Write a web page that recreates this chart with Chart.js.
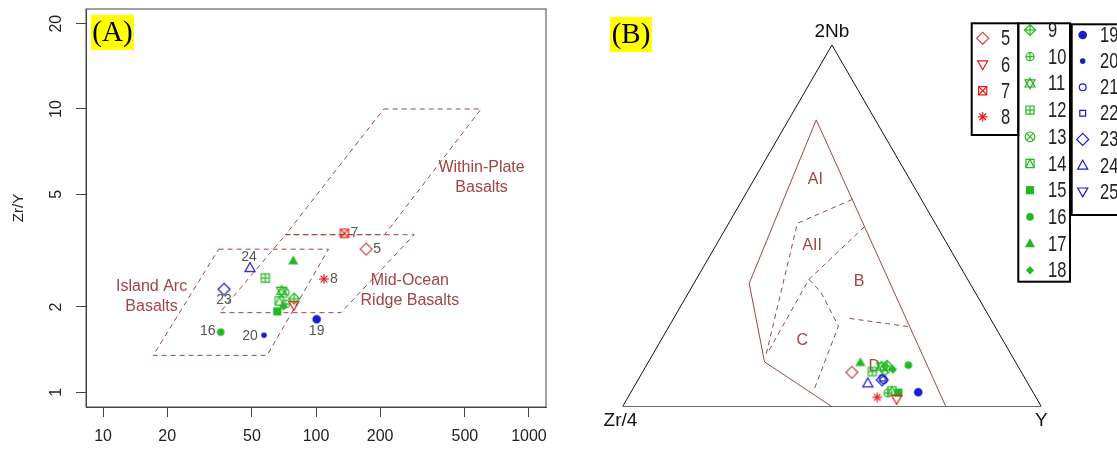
<!DOCTYPE html>
<html>
<head>
<meta charset="utf-8">
<script src="https://cdn.jsdelivr.net/npm/chart.js@4.4.1/dist/chart.umd.min.js"></script>
<style>
    html, body { margin: 0; padding: 0; background: #fff; }
    #wrap { position: relative; width: 1117px; height: 451px; overflow: hidden; }
    canvas { position: absolute; top: 0; }
    #chartA { left: 0; }
    #chartB { left: 560px; }
</style>
</head>
<body>
<div id="wrap">
    <canvas id="chartA" width="560" height="451"></canvas>
    <canvas id="chartB" width="557" height="451"></canvas>
</div>
<script>
// ---- data ----
const samples = ["5","6","7","8","9","10","11","12","13","14","15","16","17","18","19","20","21","22","23","24","25"];

// panel A: Zr (ppm) vs Zr/Y
const zrA  = [172, 78.7, 136, 109, 78.9, 72, 69, 57.8, 71, 67.3, 65.8, 35.7, 78.2, 70.3, 100.7, 57, null, null, 37, 49, null];
const zrYA = [3.2, 2.03, 3.64, 2.51, 2.14, 2.05, 2.28, 2.53, 2.25, 2.10, 1.93, 1.63, 2.91, 2.01, 1.81, 1.59, null, null, 2.31, 2.75, null];

// panel B: ternary 2Nb - Zr/4 - Y (%)
const nb2B = [9.5, 2.1, null, 2.6, 11.3, 3.8, 11.1, 9.7, 10.3, 4.4, 3.9, 11.5, 12.2, 10.3, 4.0, null, 7.4, 7.9, 7.4, 6.5, null];
const zr4B = [40.5, 33.5, null, 37.9, 31.2, 34.7, 32.6, 35.5, 32.2, 33.5, 32.2, 26.0, 37.1, 30.3, 27.4, null, 34.0, 34.0, 34.3, 38.2, null];
const yB   = [50.0, 64.4, null, 59.5, 57.5, 61.5, 56.3, 54.8, 57.5, 62.1, 63.9, 62.5, 50.7, 59.4, 68.6, null, 58.6, 58.1, 58.3, 55.3, null];

// panel A axes and fields
const xTicksA = [10, 20, 50, 100, 200, 500, 1000];
const yTicksA = [1, 2, 5, 10, 20];
const wpbX = [208, 596, 210, 72];      const wpbY = [10, 10, 3.6, 3.6];
const morbX = [72, 289, 131, 35.3];    const morbY = [3.6, 3.6, 1.91, 1.91];
const iabX = [34.9, 114.5, 58.9, 17.2]; const iabY = [3.2, 3.2, 1.35, 1.35];
const regionTextA = ["Within-Plate", "Basalts", "Mid-Ocean", "Ridge Basalts", "Island Arc", "Basalts"];
const regionXA = [599, 599, 276, 276, 16.9, 16.9];
const regionYA = [6.21, 5.28, 2.47, 2.10, 2.37, 2.01];
const labelledA = ["5", "7", "8", "24", "23", "20", "19", "16"];

// panel B fields (2Nb, Zr/4, Y)
const outlineB = [[0, 50, 50], [12.4, 59.9, 27.7], [34.1, 52.7, 13.2], [79.3, 14.1, 6.6], [0, 22.8, 77.2]];
const dashB = [
    [[57.3, 16.5, 26.2], [50.7, 32.9, 16.4], [14.3, 58.6, 27.1]],
    [[49.8, 17.3, 32.9], [35.2, 37.9, 26.9], [15.2, 57.6, 27.2]],
    [[35.2, 37.9, 26.9], [31.8, 36.8, 31.4], [22.3, 37.3, 40.4], [4.6, 52.0, 43.4]],
    [[24.4, 33.6, 42.0], [22.1, 20.4, 57.5]]
];
const fieldNamesB = ["AI", "AII", "B", "C", "D"];
const fieldPosB = [[62.7, 22.6, 14.7], [44.5, 32.5, 23.0], [34.6, 26.2, 39.2], [18.4, 47.9, 33.7], [11.0, 34.4, 54.6]];
const legendGroups = [["5","6","7","8"], ["9","10","11","12","13","14","15","16","17","18"], ["19","20","21","22","23","24","25"]];

// ---- styles ----
const FONT = '"Liberation Sans", Arial, sans-serif';
const FIELD = "#a04444";
const RED = "#e41a1a", GREEN = "#22b822", BLUE = "#1a1ad0";
const symbolOf = {"5":"diamond","6":"triDown","7":"squareX","8":"asterisk","9":"diamondPlus","10":"circlePlus",
    "11":"star","12":"squarePlus","13":"circleX","14":"squareTri","15":"squareFill","16":"circleFill",
    "17":"triFill","18":"diamondFill","19":"circleFill","20":"circleFill","21":"circle","22":"square",
    "23":"diamond","24":"triUp","25":"triDown"};
const sizeOf = {"5":5.2,"16":3.8,"18":3.6,"19":4.3,"20":2.8,"21":3.4,"22":3.4,"23":5.2,"10":4};

function colorOf(s) {
    const n = parseInt(s);
    if (n === 5) return "#c84848";
    if (n <= 8) return RED;
    if (n <= 18) return GREEN;
    return BLUE;
}

function drawSym(g, kind, x, y, r, color) {
    g.save();
    g.strokeStyle = color; g.fillStyle = color; g.lineWidth = 1.2;
    const path = pts => { g.beginPath(); pts.forEach((p, i) => i ? g.lineTo(x + p[0], y + p[1]) : g.moveTo(x + p[0], y + p[1])); g.closePath(); };
    const line = (x1, y1, x2, y2) => { g.beginPath(); g.moveTo(x + x1, y + y1); g.lineTo(x + x2, y + y2); g.stroke(); };
    const circ = rr => { g.beginPath(); g.arc(x, y, rr, 0, 2 * Math.PI); };
    const s = r * 0.85, d = r * 1.15;
    const dia = [[0, -d], [d, 0], [0, d], [-d, 0]];
    const tU = [[0, -r * 1.1], [r * 1.05, r * 0.75], [-r * 1.05, r * 0.75]];
    const tD = [[0, r * 1.1], [r * 1.05, -r * 0.75], [-r * 1.05, -r * 0.75]];
    const sq = [[-s, -s], [s, -s], [s, s], [-s, s]];
    switch (kind) {
        case "diamond": path(dia); g.stroke(); break;
        case "triUp": path(tU); g.stroke(); break;
        case "triDown": path(tD); g.stroke(); break;
        case "square": path(sq); g.stroke(); break;
        case "circle": circ(r); g.stroke(); break;
        case "squareX": path(sq); g.stroke(); line(-s, -s, s, s); line(-s, s, s, -s); break;
        case "asterisk": line(-r, 0, r, 0); line(0, -r, 0, r); line(-r * .7, -r * .7, r * .7, r * .7); line(-r * .7, r * .7, r * .7, -r * .7); break;
        case "diamondPlus": path(dia); g.stroke(); line(-d, 0, d, 0); line(0, -d, 0, d); break;
        case "circlePlus": circ(r); g.stroke(); line(-r, 0, r, 0); line(0, -r, 0, r); break;
        case "star": path(tU); g.stroke(); path(tD); g.stroke(); break;
        case "squarePlus": path(sq); g.stroke(); line(-s, 0, s, 0); line(0, -s, 0, s); break;
        case "circleX": circ(r); g.stroke(); line(-r * .7, -r * .7, r * .7, r * .7); line(-r * .7, r * .7, r * .7, -r * .7); break;
        case "squareTri": path(sq); g.stroke(); g.beginPath(); g.moveTo(x - s, y + s); g.lineTo(x, y - s); g.lineTo(x + s, y + s); g.stroke(); break;
        case "squareFill": path(sq); g.fill(); break;
        case "circleFill": circ(r); g.fill(); break;
        case "triFill": path(tU); g.fill(); break;
        case "diamondFill": path(dia); g.fill(); break;
    }
    g.restore();
}

function makeSymbol(s) {
    const r = sizeOf[s] || 4.8;
    const size = 2 * Math.ceil(r * 1.3 + 2);
    const c = document.createElement("canvas");
    c.width = size; c.height = size;
    drawSym(c.getContext("2d"), symbolOf[s], size / 2, size / 2, r, colorOf(s));
    return c;
}

function tern(p) {
    const t = p[0] + p[1] + p[2];
    const a = p[0] / t, c = p[2] / t;
    return { x: c + a / 2, y: a * Math.sqrt(3) / 2 };
}

function polygon(xs, ys) {
    const pts = xs.map((v, i) => ({ x: v, y: ys[i] }));
    pts.push(pts[0]);
    return pts;
}

function fieldLine(data, dashed) {
    return {
        type: "line", data: data, borderColor: FIELD, borderWidth: 1,
        borderDash: dashed ? [5, 4] : [], pointRadius: 0, fill: false, tension: 0, order: 2
    };
}

// ---- panel A ----
const tickGrid = { display: true, drawOnChartArea: false, drawTicks: true, tickLength: 10, color: "#444", tickColor: "#444" };

const pointSetsA = [];
samples.forEach((s, i) => {
    if (zrA[i] === null) return;
    pointSetsA.push({ type: "scatter", label: s, data: [{ x: zrA[i], y: zrYA[i] }], pointStyle: makeSymbol(s), pointRadius: 5, order: 1 });
});

const labelOffsetA = { "5": [11, 0], "7": [10, 0], "8": [10, 0], "24": [-1, -11], "23": [0, 11], "20": [-14, 1], "19": [0, 12], "16": [-13, -1] };

const panelA = {
    id: "panelA",
    afterDraw(chart) {
        const { ctx, chartArea: a, scales: { x, y } } = chart;
        ctx.save();
        ctx.strokeStyle = "#444"; ctx.lineWidth = 1;
        ctx.strokeRect(a.left, a.top, a.right - a.left, a.bottom - a.top);

        ctx.fillStyle = "#222"; ctx.font = "16px " + FONT;
        ctx.textAlign = "center"; ctx.textBaseline = "middle";
        yTicksA.forEach(v => {
            ctx.save();
            ctx.translate(57, y.getPixelForValue(v));
            ctx.rotate(-Math.PI / 2);
            ctx.fillText(String(v), 0, 0);
            ctx.restore();
        });

        ctx.fillStyle = FIELD;
        regionTextA.forEach((t, i) => ctx.fillText(t, x.getPixelForValue(regionXA[i]), y.getPixelForValue(regionYA[i])));

        ctx.fillStyle = "#555"; ctx.font = "14px " + FONT;
        labelledA.forEach(s => {
            const i = samples.indexOf(s);
            const off = labelOffsetA[s];
            ctx.fillText(s, x.getPixelForValue(zrA[i]) + off[0], y.getPixelForValue(zrYA[i]) + off[1]);
        });

        ctx.fillStyle = "#ffff00"; ctx.fillRect(91, 15, 43, 35);
        ctx.fillStyle = "#000"; ctx.font = '29px "Liberation Serif", "Times New Roman", serif';
        ctx.fillText("(A)", 112.5, 33);
        ctx.restore();
    }
};

new Chart(document.getElementById("chartA"), {
    type: "scatter",
    data: {
        datasets: [
            ...pointSetsA,
            fieldLine(polygon(wpbX, wpbY), true),
            fieldLine(polygon(morbX, morbY), true),
            fieldLine(polygon(iabX, iabY), true)
        ]
    },
    options: {
        responsive: false,
        animation: false,
        layout: { padding: { top: 9, right: 14, left: 0, bottom: 0 } },
        plugins: { legend: { display: false }, tooltip: { enabled: false } },
        scales: {
            x: {
                type: "logarithmic",
                min: Math.pow(10, 0.92), max: Math.pow(10, 3.08),
                afterBuildTicks: s => { s.ticks = xTicksA.map(v => ({ value: v })); },
                afterFit: s => { s.height = 44; },
                ticks: { callback: v => String(v), autoSkip: false, maxRotation: 0, padding: 10, color: "#222", font: { family: FONT, size: 16 } },
                grid: tickGrid,
                border: { display: true, color: "#444" }
            },
            y: {
                type: "logarithmic",
                min: Math.pow(10, -0.052), max: Math.pow(10, 1.353),
                afterBuildTicks: s => { s.ticks = yTicksA.map(v => ({ value: v })); },
                afterFit: s => { s.width = 86; },
                ticks: { display: false },
                title: { display: true, text: "Zr/Y", color: "#222", font: { family: FONT, size: 15 }, padding: { top: 10, bottom: 0 } },
                grid: tickGrid,
                border: { display: true, color: "#444" }
            }
        }
    },
    plugins: [panelA]
});

// ---- panel B ----
const pointSetsB = [];
samples.forEach((s, i) => {
    if (nb2B[i] === null) return;
    pointSetsB.push({ type: "scatter", label: s, data: [tern([nb2B[i], zr4B[i], yB[i]])], pointStyle: makeSymbol(s), pointRadius: 5, order: 1 });
});

const triangle = [[100, 0, 0], [0, 100, 0], [0, 0, 100], [100, 0, 0]].map(tern);

const legendBoxes = [
    { x0: 411.7, x1: 458.3, y0: 23.3, y1: 135, symX: 422.7, txtX: 441, row0: 38.3, step: 26.2 },
    { x0: 458.3, x1: 510, y0: 23.3, y1: 281.7, symX: 470, txtX: 488, row0: 30, step: 26.7 },
    { x0: 511.7, x1: 580, y0: 24.3, y1: 215, symX: 522.7, txtX: 540, row0: 35, step: 26.1 }
];

const panelB = {
    id: "panelB",
    beforeDatasetsDraw(chart) {
        const { ctx, scales: { x, y } } = chart;
        ctx.save();
        ctx.fillStyle = FIELD; ctx.font = "16px " + FONT;
        ctx.textAlign = "center"; ctx.textBaseline = "middle";
        fieldNamesB.forEach((t, i) => {
            const p = tern(fieldPosB[i]);
            ctx.fillText(t, x.getPixelForValue(p.x), y.getPixelForValue(p.y));
        });
        ctx.fillStyle = "#111"; ctx.font = "19px " + FONT;
        const top = tern([100, 0, 0]), left = tern([0, 100, 0]), right = tern([0, 0, 100]);
        ctx.fillText("2Nb", x.getPixelForValue(top.x), y.getPixelForValue(top.y) - 13);
        ctx.fillText("Zr/4", x.getPixelForValue(left.x) - 2, y.getPixelForValue(left.y) + 14);
        ctx.fillText("Y", x.getPixelForValue(right.x), y.getPixelForValue(right.y) + 14);
        ctx.restore();
    },
    afterDraw(chart) {
        const ctx = chart.ctx;
        ctx.save();
        ctx.fillStyle = "#ffff00"; ctx.fillRect(50, 17, 42, 35);
        ctx.fillStyle = "#000"; ctx.font = '29px "Liberation Serif", "Times New Roman", serif';
        ctx.textAlign = "center"; ctx.textBaseline = "middle";
        ctx.fillText("(B)", 71, 35);

        legendGroups.forEach((group, gi) => {
            const b = legendBoxes[gi];
            ctx.strokeStyle = "#000"; ctx.lineWidth = 2;
            ctx.strokeRect(b.x0, b.y0, b.x1 - b.x0, b.y1 - b.y0);
            group.forEach((s, k) => {
                const yy = b.row0 + k * b.step;
                drawSym(ctx, symbolOf[s], b.symX, yy, sizeOf[s] || 4.8, colorOf(s));
                ctx.save();
                ctx.translate(b.txtX, yy);
                ctx.scale(0.75, 1);
                ctx.fillStyle = "#222"; ctx.font = "22px " + FONT;
                ctx.textAlign = "left"; ctx.textBaseline = "middle";
                ctx.fillText(s, 0, 1);
                ctx.restore();
            });
        });
        ctx.restore();
    }
};

new Chart(document.getElementById("chartB"), {
    type: "scatter",
    data: {
        datasets: [
            ...pointSetsB,
            { type: "line", data: triangle, borderColor: "#111", borderWidth: 1, pointRadius: 0, fill: false, tension: 0, order: 3 },
            fieldLine(outlineB.map(tern), false),
            ...dashB.map(d => fieldLine(d.map(tern), true))
        ]
    },
    options: {
        responsive: false,
        animation: false,
        layout: { padding: { left: 62.5, right: 75.6, top: 45, bottom: 44.3 } },
        plugins: { legend: { display: false }, tooltip: { enabled: false } },
        scales: {
            x: { type: "linear", display: false, min: 0, max: 1 },
            y: { type: "linear", display: false, min: 0, max: Math.sqrt(3) / 2 }
        }
    },
    plugins: [panelB]
});
</script>
</body>
</html>
